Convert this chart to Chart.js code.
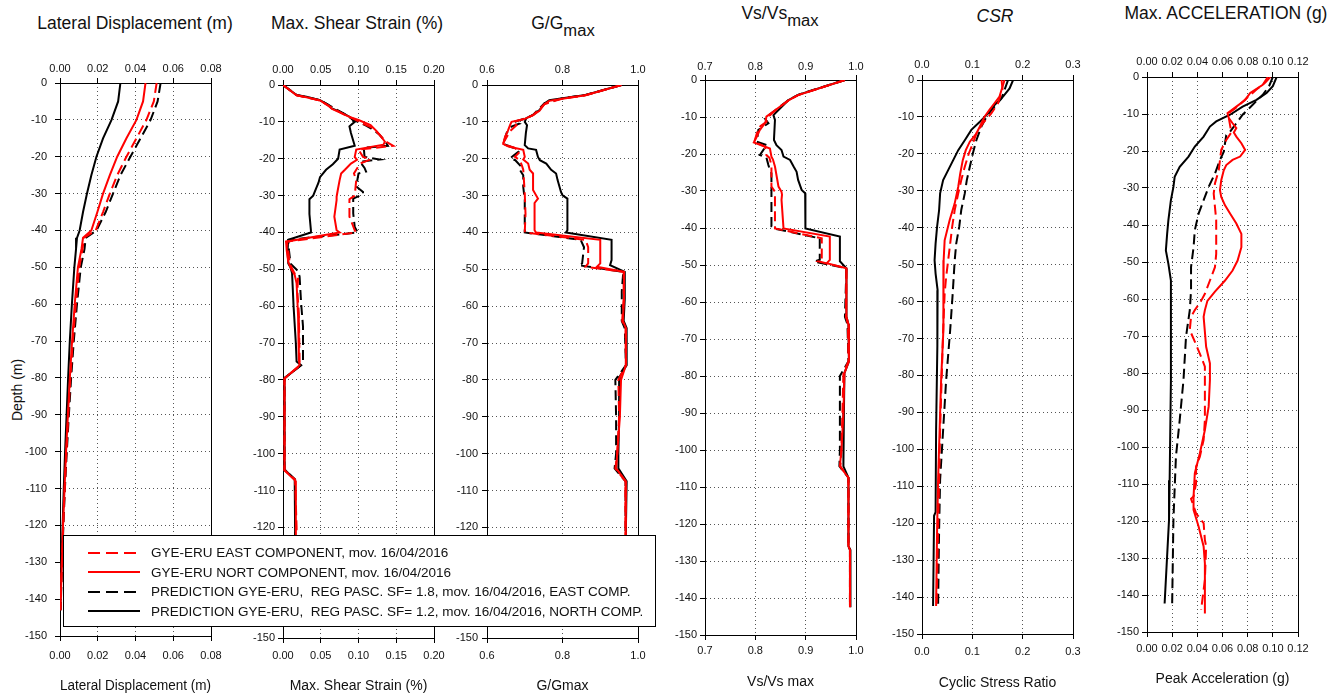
<!DOCTYPE html>
<html>
<head>
<meta charset="utf-8">
<title>Depth profiles GYE-ERU</title>
<script src="https://cdn.jsdelivr.net/npm/chart.js@4.4.0/dist/chart.umd.min.js"></script>
<style>
  html, body { margin: 0; padding: 0; background: #fff; }
  #page { position: relative; width: 1341px; height: 696px; overflow: hidden; font-family: "Liberation Sans", Arial, Helvetica, sans-serif; color: #111; }
  #page canvas.panel { position: absolute; top: 0; }
  .ptitle { position: absolute; font-size: 17.5px; line-height: 1; white-space: nowrap; transform: translate(-50%, -50%); }
  .ptitle .sub { position: relative; top: 0.42em; font-size: 0.95em; }
  #depth { position: absolute; left: 17px; top: 390px; font-size: 14px; line-height: 1; white-space: nowrap; transform: translate(-50%, -50%) rotate(-90deg); }
  #legend { position: absolute; left: 63px; top: 535px; width: 591px; height: 83px; background: #fff; border: 1.5px solid #000; padding-top: 7px; box-sizing: content-box; z-index: 5; }
  .lrow { display: flex; align-items: center; height: 19.5px; padding-left: 24px; font-size: 13.5px; white-space: pre; }
  .lrow canvas { margin-right: 11px; }
</style>
</head>
<body>
<div id="page">
  <div class="ptitle" style="left:135px; top:24px;">Lateral Displacement (m)</div>
  <div class="ptitle" style="left:357px; top:24px;">Max. Shear Strain (%)</div>
  <div class="ptitle" style="left:563px; top:24px;">G/G<span class="sub">max</span></div>
  <div class="ptitle" style="left:780px; top:14px;">Vs/Vs<span class="sub">max</span></div>
  <div class="ptitle" style="left:995px; top:17px;"><i>CSR</i></div>
  <div class="ptitle" style="left:1226px; top:14px;">Max. ACCELERATION (g)</div>
  <div id="depth">Depth (m)</div>
  <div id="legend"></div>
</div>
<script>
// ---- tick values ----
const depthTicks = [0, -10, -20, -30, -40, -50, -60, -70, -80, -90, -100, -110, -120, -130, -140, -150];
const dispTicks = [0, 0.02, 0.04, 0.06, 0.08];
const strainTicks = [0, 0.05, 0.10, 0.15, 0.20];
const gTicks = [0.6, 0.8, 1.0];
const vsTicks = [0.7, 0.8, 0.9, 1.0];
const csrTicks = [0, 0.1, 0.2, 0.3];
const accTicks = [0, 0.02, 0.04, 0.06, 0.08, 0.10, 0.12];

const seriesNames = [
    'GYE-ERU EAST COMPONENT, mov. 16/04/2016',
    'GYE-ERU NORT COMPONENT, mov. 16/04/2016',
    'PREDICTION GYE-ERU,  REG PASC. SF= 1.8, mov. 16/04/2016, EAST COMP.',
    'PREDICTION GYE-ERU,  REG PASC. SF= 1.2, mov. 16/04/2016, NORTH COMP.'
];

// ---- profiles, [value, depth (m)] ----
// Lateral displacement (m)
const dispEastObs = [[0.0512,0],[0.0497,-5],[0.0458,-10],[0.0405,-15],[0.0352,-20],[0.0303,-25],[0.0264,-30],[0.0228,-35],[0.0189,-40],[0.0126,-42],[0.012,-45],[0.0102,-50],[0.0084,-60],[0.0068,-70],[0.0055,-80],[0.0044,-90],[0.0034,-100],[0.0025,-110],[0.0017,-120],[0.001,-130],[0.0004,-140],[0.0002,-143]];
const dispNorthObs = [[0.0453,0],[0.044,-5],[0.0405,-10],[0.0352,-15],[0.0303,-20],[0.0264,-25],[0.0228,-30],[0.0198,-35],[0.0166,-40],[0.0122,-42],[0.0114,-45],[0.0095,-50],[0.0078,-60],[0.0064,-70],[0.0052,-80],[0.0042,-90],[0.0032,-100],[0.0024,-110],[0.0016,-120],[0.001,-130],[0.0004,-140],[0.0002,-143]];
const dispEastPred = [[0.0533,0],[0.0517,-5],[0.048,-10],[0.0427,-15],[0.0373,-20],[0.032,-25],[0.0281,-30],[0.0242,-35],[0.0193,-40],[0.0136,-42],[0.013,-45],[0.011,-50],[0.009,-60],[0.0073,-70],[0.0059,-80],[0.0047,-90],[0.0036,-100],[0.0026,-110],[0.0018,-120],[0.0011,-130],[0.0005,-140],[0.0003,-143]];
const dispNorthPred = [[0.032,0],[0.0308,-5],[0.0273,-10],[0.0228,-15],[0.0193,-20],[0.0166,-25],[0.0143,-30],[0.0122,-35],[0.0104,-40],[0.009,-42],[0.0085,-45],[0.0076,-50],[0.0063,-60],[0.0052,-70],[0.0043,-80],[0.0035,-90],[0.0027,-100],[0.002,-110],[0.0014,-120],[0.0008,-130],[0.0003,-140],[0.0002,-143]];

// Max. shear strain (%)
const strainEastObs = [[0,0],[0.018,-2.8],[0.049,-4.2],[0.06,-5.6],[0.08,-7.9],[0.095,-9.3],[0.11,-10.9],[0.117,-11.5],[0.124,-12.7],[0.13,-14],[0.137,-15.4],[0.146,-16.5],[0.1,-17.5],[0.106,-19.5],[0.116,-20.2],[0.102,-21.3],[0.097,-23],[0.094,-24],[0.097,-25.8],[0.095,-30],[0.088,-31],[0.088,-35.7],[0.095,-39.4],[0.097,-40],[0.005,-42.5],[0.007,-45],[0.009,-48.5],[0.015,-51],[0.02,-52],[0.019,-56],[0.021,-62],[0.022,-75],[0.023,-76],[0.002,-79.6],[0.002,-90],[0.002,-104.5],[0.016,-107],[0.018,-120],[0.018,-143]];
const strainNorthObs = [[0,0],[0.018,-2.8],[0.031,-3.3],[0.049,-4.2],[0.06,-5.6],[0.065,-6.5],[0.08,-7.9],[0.09,-8.8],[0.1,-9.5],[0.116,-10.9],[0.124,-12.5],[0.13,-14],[0.135,-15.4],[0.133,-16.2],[0.097,-17.5],[0.095,-19.5],[0.098,-20.3],[0.09,-21.3],[0.082,-23],[0.077,-24],[0.075,-25.8],[0.073,-28],[0.071,-30.3],[0.071,-31.2],[0.068,-35.7],[0.071,-39.4],[0.075,-40],[0.004,-42.5],[0.005,-45],[0.007,-48],[0.011,-50],[0.0155,-51.5],[0.018,-53.8],[0.02,-62.8],[0.021,-74.6],[0.022,-76],[0.002,-79.6],[0.002,-90],[0.002,-104.5],[0.013,-106.7],[0.017,-107.5],[0.017,-120],[0.017,-143]];
const strainEastPred = [[0,0],[0.018,-2.7],[0.049,-4.1],[0.06,-5.4],[0.08,-7.7],[0.095,-9.6],[0.11,-11],[0.117,-11.8],[0.128,-13.5],[0.137,-15.8],[0.139,-16.5],[0.107,-17],[0.108,-19.5],[0.128,-20.2],[0.102,-20.8],[0.108,-22.5],[0.11,-23.5],[0.1,-24],[0.097,-27.5],[0.106,-29],[0.106,-29.6],[0.093,-30.8],[0.093,-34.8],[0.095,-38.5],[0.099,-40],[0.007,-42],[0.008,-45],[0.01,-48.5],[0.02,-50.5],[0.022,-52],[0.024,-59.2],[0.0265,-65.5],[0.0265,-74.6],[0.024,-76],[0.002,-79.5],[0.002,-90],[0.002,-104.3],[0.016,-107],[0.016,-120],[0.016,-143]];
const strainNorthPred = [[0,0],[0.018,-2.7],[0.031,-3.2],[0.049,-4.1],[0.06,-5.4],[0.064,-6.3],[0.08,-7.7],[0.088,-8.6],[0.095,-10],[0.088,-11.2],[0.09,-13],[0.095,-16.5],[0.075,-17.5],[0.073,-20],[0.066,-21.5],[0.057,-23],[0.049,-25],[0.047,-26.5],[0.044,-28],[0.04,-30],[0.035,-31],[0.035,-35],[0.037,-39.5],[0.037,-40],[0.007,-42],[0.006,-45],[0.007,-48.4],[0.01,-49.5],[0.012,-51],[0.014,-60],[0.017,-70],[0.018,-75],[0.024,-76],[0.002,-79.5],[0.002,-90],[0.002,-104.3],[0.0155,-107],[0.016,-120],[0.016,-143]];

// G/Gmax
const gEastObs = [[0.956,0],[0.861,-2.8],[0.8,-3.7],[0.752,-5.2],[0.722,-8.2],[0.7,-9.2],[0.668,-10],[0.678,-10.9],[0.661,-12.5],[0.645,-15.4],[0.642,-16],[0.672,-17],[0.687,-18.1],[0.674,-19.5],[0.687,-20.4],[0.693,-22],[0.696,-23],[0.7,-29.4],[0.702,-35],[0.7,-40],[0.861,-42],[0.868,-44],[0.868,-48.4],[0.861,-49.3],[0.962,-50.7],[0.962,-58],[0.958,-64],[0.967,-66],[0.968,-76],[0.948,-80],[0.95,-90],[0.945,-100],[0.94,-104],[0.967,-107.5],[0.967,-120],[0.967,-143]];
const gNorthObs = [[0.956,0],[0.861,-2.8],[0.8,-3.7],[0.765,-4.3],[0.752,-5.2],[0.739,-7],[0.722,-8.2],[0.7,-9.2],[0.665,-10],[0.661,-10.9],[0.655,-12.5],[0.648,-14],[0.643,-16],[0.657,-16.7],[0.696,-17.6],[0.7,-19.5],[0.696,-20.2],[0.709,-21.3],[0.713,-23],[0.722,-24],[0.722,-28.5],[0.735,-30.8],[0.726,-32],[0.726,-39.4],[0.73,-40],[0.9,-42],[0.9,-48.4],[0.891,-49.3],[0.963,-50.7],[0.963,-58],[0.96,-64],[0.968,-66],[0.968,-76],[0.955,-80],[0.952,-90],[0.945,-100],[0.942,-104],[0.968,-107.5],[0.967,-120],[0.967,-143]];
const gEastPred = [[0.956,0],[0.861,-2.7],[0.8,-3.6],[0.752,-5],[0.722,-8.1],[0.704,-9],[0.672,-10],[0.685,-10.5],[0.665,-11.3],[0.652,-13],[0.643,-16],[0.674,-17.2],[0.683,-18.1],[0.661,-19.9],[0.675,-20.4],[0.691,-22.2],[0.687,-23],[0.696,-24.5],[0.696,-27.6],[0.7,-31.2],[0.7,-40],[0.848,-42],[0.857,-44],[0.852,-48.4],[0.843,-48.9],[0.961,-50.7],[0.957,-56],[0.957,-64],[0.965,-66],[0.968,-76],[0.94,-80],[0.942,-90],[0.942,-100],[0.938,-104],[0.967,-107.5],[0.967,-120],[0.967,-143]];
const gNorthPred = [[0.956,0],[0.861,-2.7],[0.8,-3.6],[0.765,-4.1],[0.752,-5],[0.739,-6.8],[0.722,-8.1],[0.704,-9],[0.7,-10],[0.706,-10.9],[0.703,-13],[0.7,-16.3],[0.709,-17.2],[0.73,-17.6],[0.735,-19.5],[0.74,-20.4],[0.757,-21.3],[0.77,-23],[0.783,-24],[0.787,-25.8],[0.796,-29],[0.8,-29.9],[0.813,-30.8],[0.813,-39.4],[0.809,-40],[0.93,-42],[0.93,-47.5],[0.926,-48.9],[0.965,-50.7],[0.965,-58],[0.962,-64],[0.97,-66],[0.97,-76],[0.952,-79],[0.95,-90],[0.948,-100],[0.948,-104],[0.97,-107.5],[0.968,-120],[0.968,-143]];

// Vs/Vsmax
const vsEastObs = [[0.978,0],[0.885,-4.1],[0.866,-5.5],[0.846,-7.5],[0.826,-9.9],[0.822,-11.3],[0.81,-12.5],[0.803,-14.4],[0.798,-16.7],[0.819,-18],[0.822,-20.3],[0.828,-21],[0.832,-23],[0.832,-28.8],[0.839,-30.2],[0.839,-40.1],[0.932,-42.8],[0.932,-48.6],[0.925,-49],[0.981,-50.9],[0.98,-64],[0.984,-66],[0.985,-76],[0.975,-79.2],[0.973,-90],[0.971,-100],[0.969,-104.4],[0.985,-107.5],[0.985,-126],[0.988,-127],[0.988,-142.5]];
const vsNorthObs = [[0.978,0],[0.885,-4.1],[0.866,-5.5],[0.846,-7.5],[0.822,-9.9],[0.82,-11.5],[0.809,-13.5],[0.803,-15.3],[0.797,-16.9],[0.829,-18.5],[0.832,-20.7],[0.835,-21.5],[0.839,-23.4],[0.846,-28.8],[0.852,-30.2],[0.853,-31],[0.852,-32.4],[0.856,-40.1],[0.948,-42.3],[0.948,-48.6],[0.942,-49.5],[0.981,-50.9],[0.981,-64],[0.985,-66],[0.986,-76],[0.977,-79.2],[0.975,-90],[0.971,-100],[0.968,-104.4],[0.985,-107.5],[0.985,-126],[0.988,-127],[0.988,-142.5]];
const vsEastPred = [[0.978,0],[0.885,-4],[0.866,-5.4],[0.846,-7.5],[0.819,-10.4],[0.826,-11.7],[0.806,-13.5],[0.803,-16.7],[0.823,-17.6],[0.816,-18.9],[0.809,-20.3],[0.822,-21],[0.826,-23],[0.829,-24.3],[0.832,-25.2],[0.832,-39.6],[0.836,-40.1],[0.928,-42.8],[0.928,-48.6],[0.917,-49.1],[0.981,-50.9],[0.978,-64],[0.983,-66],[0.985,-76],[0.968,-80],[0.968,-90],[0.968,-100],[0.967,-104.4],[0.985,-107.5],[0.985,-126],[0.988,-127],[0.988,-142.5]];
const vsNorthPred = [[0.978,0],[0.885,-4],[0.866,-5.4],[0.846,-8.1],[0.836,-9.5],[0.839,-10.8],[0.837,-16.2],[0.842,-17.6],[0.852,-18.9],[0.856,-20.7],[0.869,-21.6],[0.876,-23.4],[0.882,-24.8],[0.885,-27],[0.892,-29.7],[0.899,-30.6],[0.899,-39.6],[0.9,-40.1],[0.968,-42.3],[0.968,-49],[0.981,-50.9],[0.981,-64],[0.985,-66],[0.986,-76],[0.977,-79.2],[0.976,-90],[0.975,-100],[0.975,-104.4],[0.985,-107.5],[0.985,-126],[0.989,-127],[0.989,-142.5]];

// Cyclic stress ratio
const csrEastObs = [[0.158,0],[0.16,-2.5],[0.151,-6.3],[0.138,-9],[0.121,-11.7],[0.108,-14.5],[0.101,-17.2],[0.093,-19.9],[0.085,-23.5],[0.078,-27.1],[0.072,-30.7],[0.065,-35.2],[0.06,-39.7],[0.056,-44.3],[0.052,-48.8],[0.048,-53.3],[0.045,-57.8],[0.042,-67.7],[0.039,-81.2],[0.036,-94.7],[0.034,-108.2],[0.032,-121.7],[0.029,-142.4]];
const csrNorthObs = [[0.164,0],[0.154,-4.5],[0.144,-6.3],[0.134,-8.1],[0.124,-10],[0.115,-12.6],[0.108,-14.5],[0.095,-16.7],[0.087,-19],[0.081,-21.7],[0.076,-25.3],[0.072,-28.9],[0.065,-33.4],[0.055,-37.9],[0.045,-43.4],[0.043,-48.8],[0.043,-55],[0.042,-67.7],[0.038,-81.2],[0.035,-94.7],[0.032,-108.2],[0.03,-121.7],[0.028,-142.4]];
const csrEastPred = [[0.171,0],[0.158,-5],[0.144,-7.2],[0.13,-9.5],[0.118,-12.6],[0.108,-16.3],[0.101,-19.9],[0.095,-23.5],[0.089,-27.1],[0.085,-30.7],[0.078,-35.2],[0.074,-39.7],[0.068,-44.3],[0.065,-48.8],[0.063,-53.3],[0.061,-57.8],[0.056,-67.7],[0.048,-81.2],[0.042,-94.7],[0.036,-108.2],[0.034,-121.7],[0.032,-142.4]];
const csrNorthPred = [[0.181,0],[0.174,-2.3],[0.161,-4.5],[0.144,-6.8],[0.128,-9.5],[0.115,-11.3],[0.098,-13.5],[0.085,-16.3],[0.072,-19],[0.062,-21.7],[0.052,-24.4],[0.042,-27.1],[0.036,-30.7],[0.034,-35.2],[0.03,-39.7],[0.027,-44.3],[0.025,-48.8],[0.027,-52.4],[0.031,-56.9],[0.031,-60],[0.03,-72],[0.028,-95],[0.027,-117],[0.024,-118],[0.022,-142.4]];

// Peak acceleration (g)
const accEastObs = [[0.098,0],[0.094,-1.5],[0.087,-3.4],[0.08,-5.5],[0.075,-7],[0.07,-8.5],[0.066,-9.5],[0.065,-11],[0.066,-13],[0.067,-15],[0.063,-17],[0.059,-19.7],[0.058,-22.5],[0.057,-25.2],[0.054,-28.8],[0.053,-31.5],[0.054,-35.1],[0.055,-38.7],[0.055,-44.2],[0.055,-47.8],[0.054,-51.4],[0.05,-55],[0.046,-58.6],[0.043,-60.5],[0.038,-63],[0.035,-64.8],[0.034,-68.4],[0.038,-71.5],[0.043,-75.6],[0.046,-78.3],[0.046,-84.6],[0.046,-92.7],[0.045,-98.1],[0.042,-102.6],[0.039,-105.3],[0.039,-109.8],[0.037,-113.4],[0.035,-114],[0.039,-117.9],[0.045,-120.6],[0.046,-125.1],[0.047,-126.9],[0.046,-135.9],[0.043,-144]];
const accNorthObs = [[0.096,0],[0.092,-2.1],[0.082,-4.3],[0.078,-6.2],[0.071,-8],[0.064,-9.8],[0.065,-11.1],[0.068,-12.5],[0.071,-13.8],[0.069,-15],[0.071,-16.1],[0.075,-17.9],[0.078,-19.7],[0.074,-21.5],[0.068,-22.4],[0.063,-23.8],[0.061,-25.2],[0.059,-27.9],[0.058,-30.6],[0.059,-32.4],[0.062,-34.7],[0.066,-36.9],[0.071,-39.6],[0.075,-42.4],[0.075,-46],[0.072,-49.6],[0.068,-52.3],[0.062,-55],[0.054,-58],[0.048,-60.5],[0.046,-63],[0.045,-64.8],[0.047,-72.9],[0.05,-77.4],[0.05,-81.9],[0.049,-89.1],[0.046,-95.4],[0.042,-101.7],[0.038,-107.1],[0.037,-113.4],[0.037,-117],[0.041,-121.5],[0.045,-126.9],[0.046,-131.4],[0.046,-145]];
const accEastPred = [[0.1,0],[0.097,-2.5],[0.092,-4.8],[0.084,-7.5],[0.076,-10.2],[0.071,-12.5],[0.066,-14.8],[0.063,-15.7],[0.062,-17.9],[0.061,-20.2],[0.058,-22.4],[0.054,-26.1],[0.049,-29.7],[0.045,-33.3],[0.041,-36.9],[0.038,-41.4],[0.037,-46],[0.035,-51.4],[0.035,-57.7],[0.034,-63],[0.031,-70.2],[0.029,-81.9],[0.026,-92.7],[0.023,-102.6],[0.021,-119.7],[0.02,-142.3]];
const accNorthPred = [[0.103,0],[0.1,-2.5],[0.095,-4.3],[0.087,-6.2],[0.076,-8],[0.066,-10.2],[0.055,-12],[0.05,-13.4],[0.045,-16.1],[0.038,-18.8],[0.033,-21.5],[0.026,-24.3],[0.022,-27],[0.021,-29.7],[0.019,-33.3],[0.017,-38.7],[0.016,-42.4],[0.015,-46.9],[0.017,-50.5],[0.019,-55],[0.019,-60],[0.019,-82],[0.018,-109],[0.0175,-119.7],[0.014,-142.3]];

// ---- styling / layout ----
const FONT = '"Liberation Sans", Arial, Helvetica, sans-serif';
const H = 696;
const AXIS_W = 60;   // room left of each plot for the depth labels
const PAD_R = 16;    // room right of each plot for the last tick label
const DASH = [10, 5];

const seriesStyle = [
    { color: '#ff0000', dash: DASH },
    { color: '#ff0000', dash: [] },
    { color: '#000000', dash: DASH },
    { color: '#000000', dash: [] }
];

// L/R/T/B = plot area edges in page pixels
const panels = [
    { L: 60, R: 211, T: 83, B: 636, min: 0, max: 0.08, ticks: dispTicks, dec: 2,
      data: [dispEastObs, dispNorthObs, dispEastPred, dispNorthPred],
      xTitle: 'Lateral Displacement (m)', topLabelY: 69, botLabelY: 656, botTitleY: 686, yPad: 8 },
    { L: 283, R: 434, T: 85, B: 638, min: 0, max: 0.2, ticks: strainTicks, dec: 2,
      data: [strainEastObs, strainNorthObs, strainEastPred, strainNorthPred],
      xTitle: 'Max. Shear Strain (%)', topLabelY: 70, botLabelY: 656, botTitleY: 686, yPad: 3 },
    { L: 487, R: 638, T: 85, B: 638, min: 0.6, max: 1.0, ticks: gTicks, dec: 1,
      data: [gEastObs, gNorthObs, gEastPred, gNorthPred],
      xTitle: 'G/Gmax', topLabelY: 70, botLabelY: 656, botTitleY: 686, yPad: 4 },
    { L: 705, R: 856, T: 80, B: 635, min: 0.7, max: 1.0, ticks: vsTicks, dec: 1,
      data: [vsEastObs, vsNorthObs, vsEastPred, vsNorthPred],
      xTitle: 'Vs/Vs max', topLabelY: 67, botLabelY: 651, botTitleY: 682, yPad: 3 },
    { L: 922, R: 1073, T: 80, B: 634, min: 0, max: 0.3, ticks: csrTicks, dec: 1,
      data: [csrEastObs, csrNorthObs, csrEastPred, csrNorthPred],
      xTitle: 'Cyclic Stress Ratio', topLabelY: 65, botLabelY: 652, botTitleY: 683, yPad: 3 },
    { L: 1147, R: 1298, T: 77, B: 632, min: 0, max: 0.12, ticks: accTicks, dec: 2,
      data: [accEastObs, accNorthObs, accEastPred, accNorthPred],
      xTitle: 'Peak Acceleration (g)', topLabelY: 62, botLabelY: 649, botTitleY: 679, yPad: 3 }
];

// box round each plot area
const frame = {
    id: 'frame',
    beforeDatasetsDraw(chart) {
        const { ctx, chartArea: a } = chart;
        ctx.save();
        ctx.strokeStyle = '#000';
        ctx.lineWidth = 1;
        ctx.strokeRect(Math.round(a.left) + 0.5, Math.round(a.top) + 0.5, Math.round(a.right - a.left), Math.round(a.bottom - a.top));
        ctx.restore();
    }
};

const tickFont = { family: FONT, size: 11 };
const gridOpts = { color: '#555', tickColor: '#000', tickLength: 5, lineWidth: 1 };
const borderOpts = { color: '#000', width: 1, dash: [1, 3] };

function xAxis(p, position) {
    const top = position === 'top';
    return {
        type: 'linear',
        position: position,
        min: p.min,
        max: p.max,
        afterBuildTicks: s => { s.ticks = p.ticks.map(v => ({ value: v })); },
        afterFit: s => {
            s.height = top ? p.T : H - p.B;
            s.paddingLeft = 0;
            s.paddingRight = 0;
        },
        ticks: {
            font: tickFont,
            color: '#111',
            autoSkip: false,
            maxRotation: 0,
            padding: top ? p.T - p.topLabelY - 11.6 : p.botLabelY - p.B - 11.6,
            callback: v => Number(v).toFixed(p.dec)
        },
        grid: Object.assign({}, gridOpts, { drawOnChartArea: !top }),
        border: borderOpts,
        title: {
            display: !top,
            text: p.xTitle,
            color: '#111',
            font: { family: FONT, size: 14 },
            padding: { top: 0, bottom: H - p.botTitleY - 8.4 }
        }
    };
}

const page = document.getElementById('page');

panels.forEach(p => {
    const cv = document.createElement('canvas');
    cv.className = 'panel';
    cv.width = p.R - p.L + AXIS_W + PAD_R;
    cv.height = H;
    cv.style.left = (p.L - AXIS_W) + 'px';
    page.insertBefore(cv, document.getElementById('legend'));

    new Chart(cv, {
        type: 'line',
        data: {
            datasets: p.data.map((pairs, i) => ({
                label: seriesNames[i],
                data: pairs.map(([x, y]) => ({ x, y })),
                borderColor: seriesStyle[i].color,
                borderDash: seriesStyle[i].dash,
                borderWidth: 2,
                pointRadius: 0,
                tension: 0,
                fill: false,
                xAxisID: 'x',
                yAxisID: 'y'
            }))
        },
        options: {
            responsive: false,
            animation: false,
            events: [],
            layout: { padding: { left: 0, right: PAD_R, top: 0, bottom: 0 } },
            plugins: { legend: { display: false }, tooltip: { enabled: false } },
            scales: {
                x: xAxis(p, 'bottom'),
                xTop: xAxis(p, 'top'),
                y: {
                    type: 'linear',
                    min: -150,
                    max: 0,
                    afterBuildTicks: s => { s.ticks = depthTicks.map(v => ({ value: v })); },
                    afterFit: s => { s.width = AXIS_W; s.paddingTop = 0; s.paddingBottom = 0; },
                    ticks: { font: tickFont, color: '#111', autoSkip: false, padding: p.yPad, callback: v => String(v) },
                    grid: gridOpts,
                    border: borderOpts
                }
            }
        },
        plugins: [frame]
    });
});

// legend
const legend = document.getElementById('legend');
seriesNames.forEach((name, i) => {
    const row = document.createElement('div');
    row.className = 'lrow';
    const sw = document.createElement('canvas');
    sw.width = 52;
    sw.height = 6;
    const c = sw.getContext('2d');
    c.strokeStyle = seriesStyle[i].color;
    c.lineWidth = 2;
    c.setLineDash(seriesStyle[i].dash.length ? [12, 6] : []);
    c.beginPath();
    c.moveTo(0, 3);
    c.lineTo(52, 3);
    c.stroke();
    const txt = document.createElement('span');
    txt.textContent = name;
    row.appendChild(sw);
    row.appendChild(txt);
    legend.appendChild(row);
});
</script>
</body>
</html>
